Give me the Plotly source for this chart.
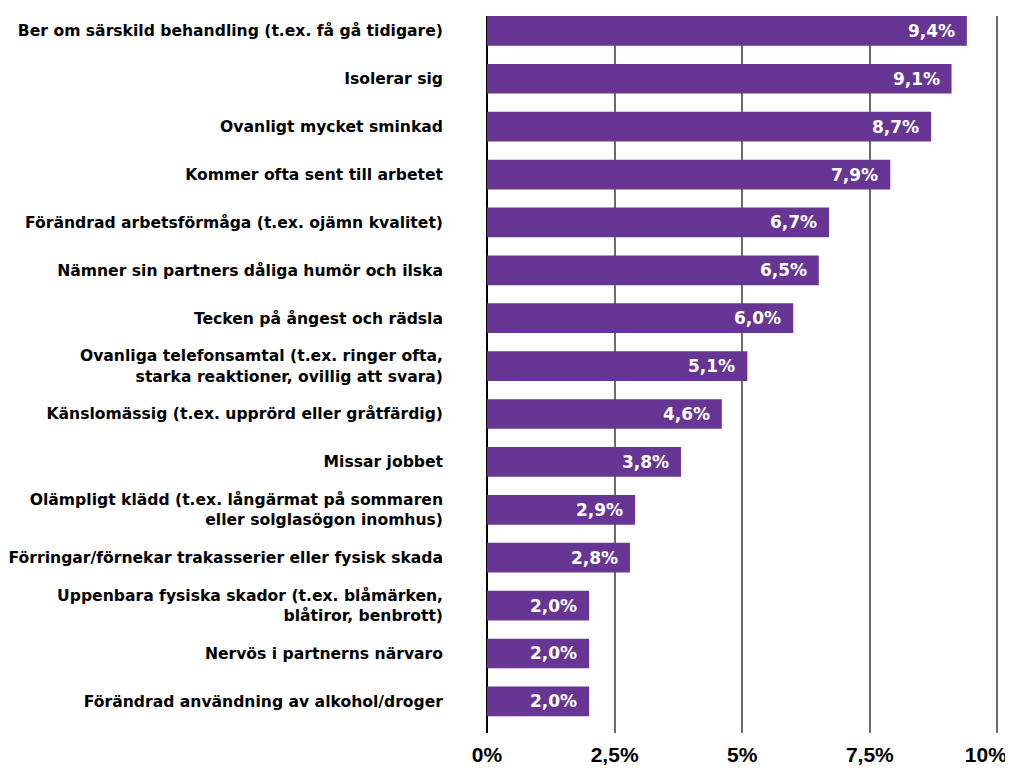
import plotly.graph_objects as go

categories = [
    "Ber om särskild behandling (t.ex. få gå tidigare)",
    "Isolerar sig",
    "Ovanligt mycket sminkad",
    "Kommer ofta sent till arbetet",
    "Förändrad arbetsförmåga (t.ex. ojämn kvalitet)",
    "Nämner sin partners dåliga humör och ilska",
    "Tecken på ångest och rädsla",
    "Ovanliga telefonsamtal (t.ex. ringer ofta,<br>starka reaktioner, ovillig att svara)",
    "Känslomässig (t.ex. upprörd eller gråtfärdig)",
    "Missar jobbet",
    "Olämpligt klädd (t.ex. långärmat på sommaren<br>eller solglasögon inomhus)",
    "Förringar/förnekar trakasserier eller fysisk skada",
    "Uppenbara fysiska skador (t.ex. blåmärken,<br>blåtiror, benbrott)",
    "Nervös i partnerns närvaro",
    "Förändrad användning av alkohol/droger",
]
values = [9.4, 9.1, 8.7, 7.9, 6.7, 6.5, 6.0, 5.1, 4.6, 3.8, 2.9, 2.8, 2.0, 2.0, 2.0]
value_labels = [f"{v:.1f}%".replace(".", ",") for v in values]
tick_vals = [0, 2.5, 5, 7.5, 10]
tick_text = ["0%", "2,5%", "5%", "7,5%", "10%"]

FONT = "DejaVu Sans, Liberation Sans, sans-serif"
TICKFONT = "Liberation Sans, Arial, sans-serif"
PURPLE = "#673694"

fig = go.Figure()
fig.add_trace(go.Bar(
    x=values, y=categories, orientation="h",
    marker=dict(color=PURPLE, line=dict(width=0)),
    width=0.62, hoverinfo="skip",
))

for v, lab, cat in zip(values, value_labels, categories):
    fig.add_annotation(x=v, y=cat, text=f"<b>{lab}</b>", showarrow=False,
                       xanchor="right", xshift=-10,
                       font=dict(family=FONT, size=17, color="white"))

# last tick label is padded so it stays inside the page, as in the reference
tick_labels = [f"<b>{t}</b>" for t in tick_text]
tick_labels[-1] = tick_labels[-1] + "&nbsp;" * 4

n = len(categories)
# page body adds an 8px offset; compensate so the plot lands where the reference has it
fig.update_layout(
    width=1005, height=761,
    margin=dict(l=479, r=13.5, t=8, b=36, autoexpand=False),
    plot_bgcolor="white", paper_bgcolor="white",
    showlegend=False, bargap=0.38,
    font=dict(family=FONT, color="black"),
    xaxis=dict(range=[0, 10.03], tickvals=tick_vals, ticktext=tick_labels,
               showgrid=True, gridcolor="#6b6b6b", gridwidth=1.5,
               zeroline=True, zerolinecolor="black", zerolinewidth=1.5,
               tickfont=dict(family=TICKFONT, size=21, color="black"),
               ticklabelstandoff=7, automargin=False, ticklabeloverflow="allow",
               ticks="", showline=False, fixedrange=True),
    yaxis=dict(range=[n - 1 + 0.66, -0.31], type="category",
               tickvals=categories, ticktext=[f"<b>{c}</b>" for c in categories],
               tickfont=dict(family=FONT, size=15.6, color="black"),
               ticklabelstandoff=43, automargin=False,
               showgrid=False, ticks="", showline=False,
               zeroline=False, fixedrange=True),
)

fig.write_html("out.html")
